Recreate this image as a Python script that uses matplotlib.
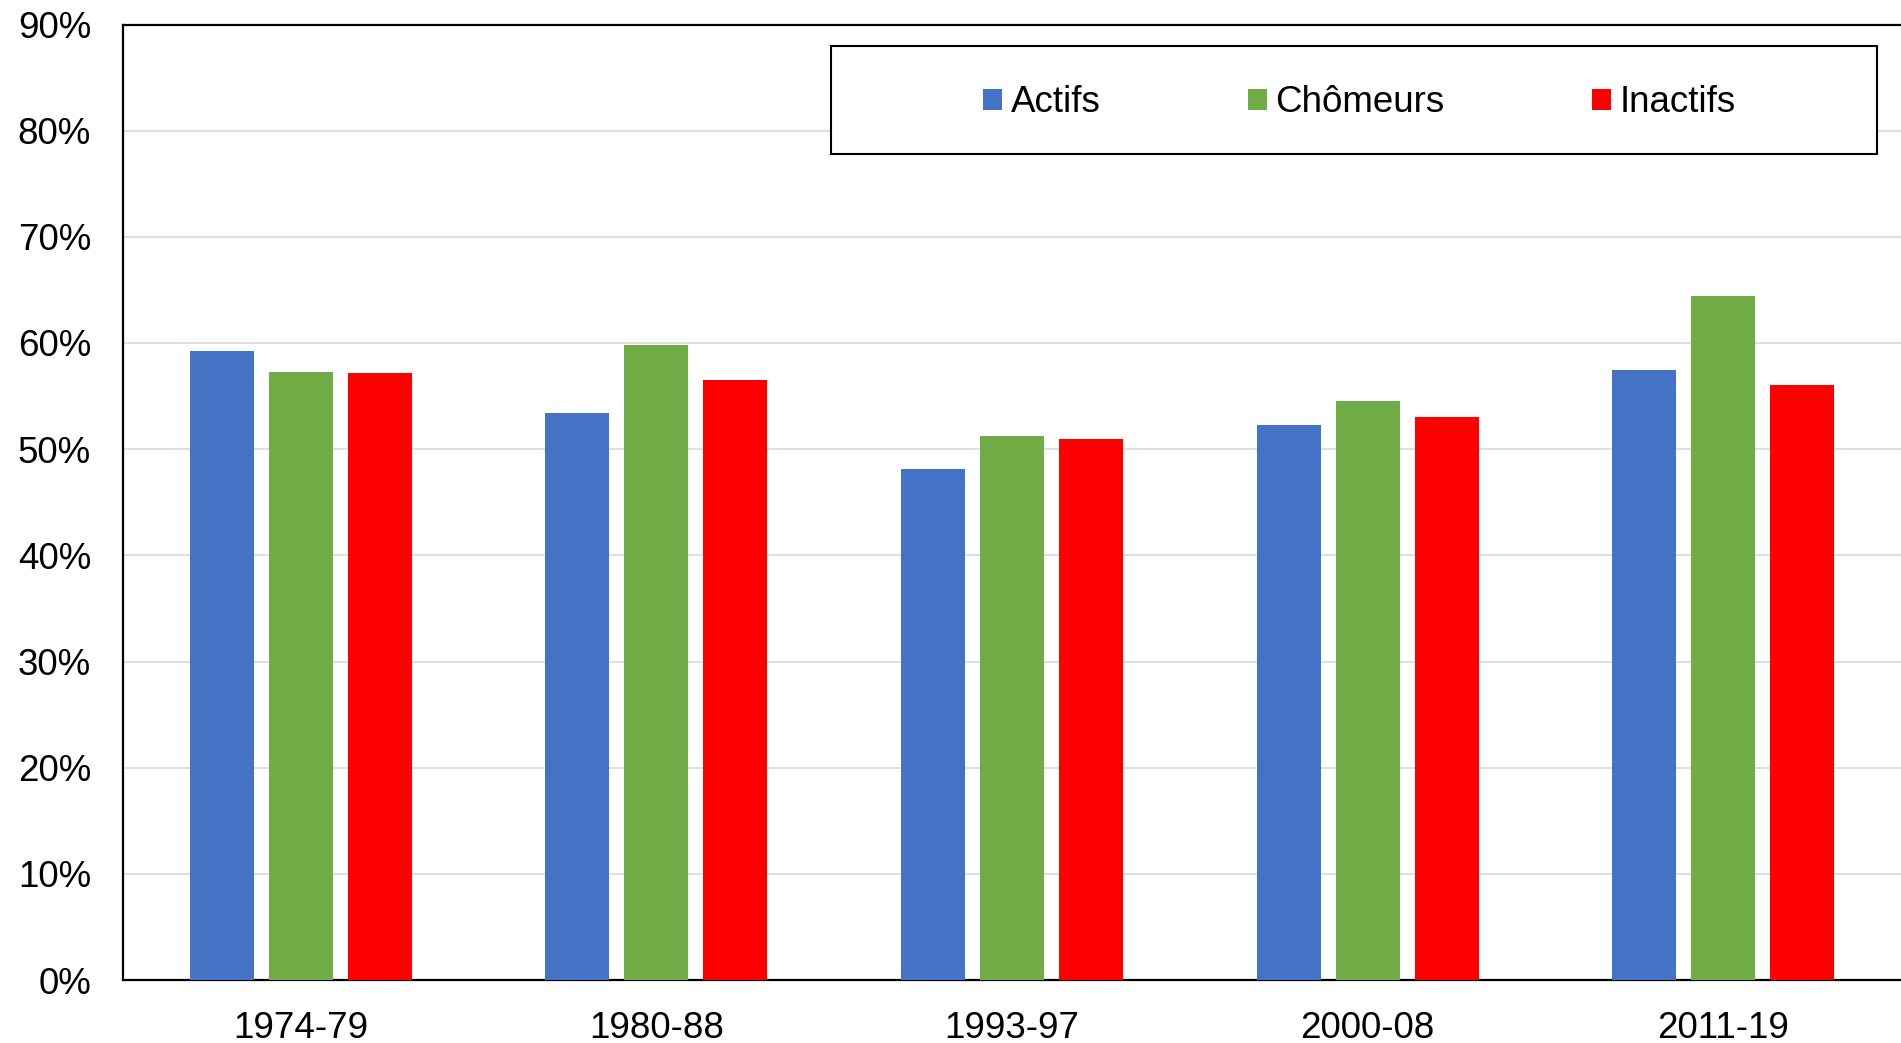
import numpy as np
import matplotlib
matplotlib.use("Agg")
import matplotlib.pyplot as plt
from matplotlib.patches import Rectangle, Patch
from matplotlib.ticker import FuncFormatter, MultipleLocator

plt.rcParams['font.family'] = ['Liberation Sans', 'DejaVu Sans']

# Data (in %)
periods = ['1974-79', '1980-88', '1993-97', '2000-08', '2011-19']
actifs = [59.2, 53.4, 48.1, 52.3, 57.5]
chomeurs = [57.3, 59.8, 51.2, 54.5, 64.4]
inactifs = [57.2, 56.5, 51.0, 53.0, 56.0]

series = [('Actifs', actifs, '#4472C4'),
          ('Chômeurs', chomeurs, '#70AD47'),
          ('Inactifs', inactifs, '#FF0000')]

W, H = 1901, 1043
fig = plt.figure(figsize=(W / 100, H / 100), dpi=100)
ax = fig.add_axes([123 / W, 1 - 980 / H, 1 - 123 / W, (980 - 24.5) / H])

x = np.arange(len(periods))
width = 0.18
step = 0.222
for i, (name, vals, color) in enumerate(series):
    ax.bar(x + (i - 1) * step, vals, width, color=color, label=name, zorder=3)

ax.set_xlim(-0.5, len(periods) - 0.5)
ax.set_ylim(0, 90)
ax.yaxis.set_major_locator(MultipleLocator(10))
ax.yaxis.set_major_formatter(FuncFormatter(lambda v, p: f"{v:.0f}%"))
ax.set_xticks(x)
ax.set_xticklabels(periods)
ax.tick_params(axis='both', length=0, labelsize=26.5)
ax.tick_params(axis='y', pad=23)
ax.tick_params(axis='x', pad=22)

ax.grid(axis='y', color='#D9D9D9', linewidth=1.2, zorder=0)
for s in ['left', 'top', 'bottom']:
    ax.spines[s].set_linewidth(1.6)
    ax.spines[s].set_color('black')
ax.spines['right'].set_visible(False)

# legend box
fig.patches.append(Rectangle((830.5 / W, 1 - 154 / H), (1877 - 830.5) / W, (154 - 46) / H,
                             transform=fig.transFigure, facecolor='white',
                             edgecolor='black', linewidth=1.5, zorder=5))
handles = [Patch(facecolor=c, label=n) for n, v, c in series]
leg = fig.legend(handles=handles, loc='center', bbox_to_anchor=(1359.5 / W, 1 - 103 / H),
                 ncol=3, frameon=False, fontsize=26.5, handlelength=0.52,
                 handleheight=0.52, handletextpad=0.23, columnspacing=4.0)
leg.set_zorder(6)

fig.savefig('out.png', dpi=100)
